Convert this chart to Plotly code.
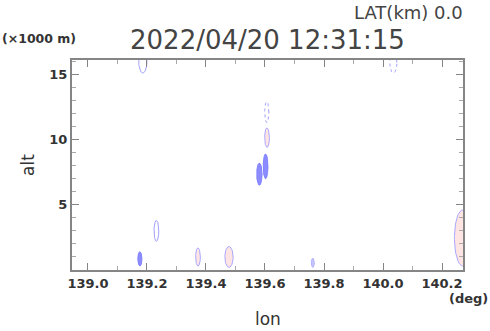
import numpy as np
import plotly.graph_objects as go

# Blob data (center lon, center alt, half-width lon, half-height alt, style)
blob_lon = [139.176, 139.232, 139.373, 139.478, 139.762, 140.27, 139.581, 139.602, 139.607, 139.606, 139.186, 140.035]
blob_alt = [0.85, 3.0, 1.0, 1.0, 0.55, 2.45, 7.35, 7.95, 10.15, 12.1, 16.0, 15.9]
blob_dlon = [0.007, 0.008, 0.008, 0.014, 0.005, 0.028, 0.009, 0.008, 0.008, 0.007, 0.014, 0.012]
blob_dalt = [0.55, 0.8, 0.7, 0.8, 0.35, 2.15, 0.85, 0.95, 0.75, 0.8, 0.9, 0.8]
blob_kind = ["blue", "open", "pink", "pink", "lightblue", "pink", "blue", "blue", "pink", "dotted", "open", "dotted"]

x_ticks = [139.0, 139.2, 139.4, 139.6, 139.8, 140.0, 140.2]
x_ticklabels = ["139.0", "139.2", "139.4", "139.6", "139.8", "140.0", "140.2"]
y_ticks = [5, 10, 15]
y_ticklabels = ["5", "10", "15"]

title_text = "2022/04/20 12:31:15"
lat_text = "LAT(km) 0.0"

styles = {
    "blue": dict(fill="#8c8cff", line="#8080ff", dash="solid"),
    "lightblue": dict(fill="#c8c8ff", line="#b0b0ff", dash="solid"),
    "pink": dict(fill="#ffe4e4", line="#a8a8ff", dash="solid"),
    "open": dict(fill="rgba(255,255,255,0)", line="#a0a0ff", dash="solid"),
    "dotted": dict(fill="rgba(255,255,255,0)", line="#a0a0ff", dash="dot"),
}

fig = go.Figure()
t = np.linspace(0, 2 * np.pi, 60)
for lo, al, dl, da, k in zip(blob_lon, blob_alt, blob_dlon, blob_dalt, blob_kind):
    s = styles[k]
    xs = lo + dl * np.cos(t)
    ys = np.clip(al + da * np.sin(t), 0.15, None)
    fig.add_trace(go.Scatter(
        x=xs, y=ys, mode="lines", fill="toself", fillcolor=s["fill"],
        line=dict(color=s["line"], width=1, dash=s["dash"]),
        hoverinfo="skip", showlegend=False))

FONT = "DejaVu Sans"
axis_common = dict(
    showgrid=False, zeroline=False, showline=True, linecolor="#858585", linewidth=2,
    mirror="ticks", ticks="inside", ticklen=7, tickcolor="#858585", tickwidth=1,
    tickfont=dict(family=FONT, size=13, color="#333333", weight="bold"),
)

fig.update_layout(
    width=490, height=331,
    margin=dict(l=72, r=27, t=60, b=61),
    paper_bgcolor="white", plot_bgcolor="white",
    xaxis=dict(range=[138.946, 140.271], tickvals=x_ticks, ticktext=x_ticklabels,
               minor=dict(dtick=0.1, ticks="inside", ticklen=4, tickcolor="#aaaaaa"),
               **axis_common),
    yaxis=dict(range=[0, 16.1], tickvals=y_ticks, ticktext=y_ticklabels,
               minor=dict(dtick=1, ticks="inside", ticklen=4, tickcolor="#aaaaaa"),
               **axis_common),
    annotations=[
        dict(text=title_text, x=0.5, y=1.0, xref="paper", yref="paper", yshift=20,
             xanchor="center", yanchor="middle", showarrow=False,
             font=dict(family=FONT, size=26, color="#444444")),
        dict(text=lat_text, x=1.0, y=1.0, xref="paper", yref="paper", yshift=60, xshift=2,
             xanchor="right", yanchor="top", showarrow=False,
             font=dict(family=FONT, size=18, color="#444444")),
        dict(text="(×1000 m)", x=0, y=1.0, xref="paper", yref="paper", xshift=-72, yshift=22,
             xanchor="left", yanchor="middle", showarrow=False,
             font=dict(family=FONT, size=12.5, color="#333333", weight="bold")),
        dict(text="alt", x=0, y=0.5, xref="paper", yref="paper", xshift=-44,
             xanchor="center", yanchor="middle", showarrow=False, textangle=-90,
             font=dict(family=FONT, size=17, color="#333333")),
        dict(text="lon", x=0.5, y=0, xref="paper", yref="paper", yshift=-61,
             xanchor="center", yanchor="bottom", showarrow=False,
             font=dict(family=FONT, size=17, color="#333333")),
        dict(text="(deg)", x=1.0, y=0, xref="paper", yref="paper", yshift=-28, xshift=27,
             xanchor="right", yanchor="middle", showarrow=False,
             font=dict(family=FONT, size=13, color="#333333", weight="bold")),
    ],
)

fig.write_html("out.html")
